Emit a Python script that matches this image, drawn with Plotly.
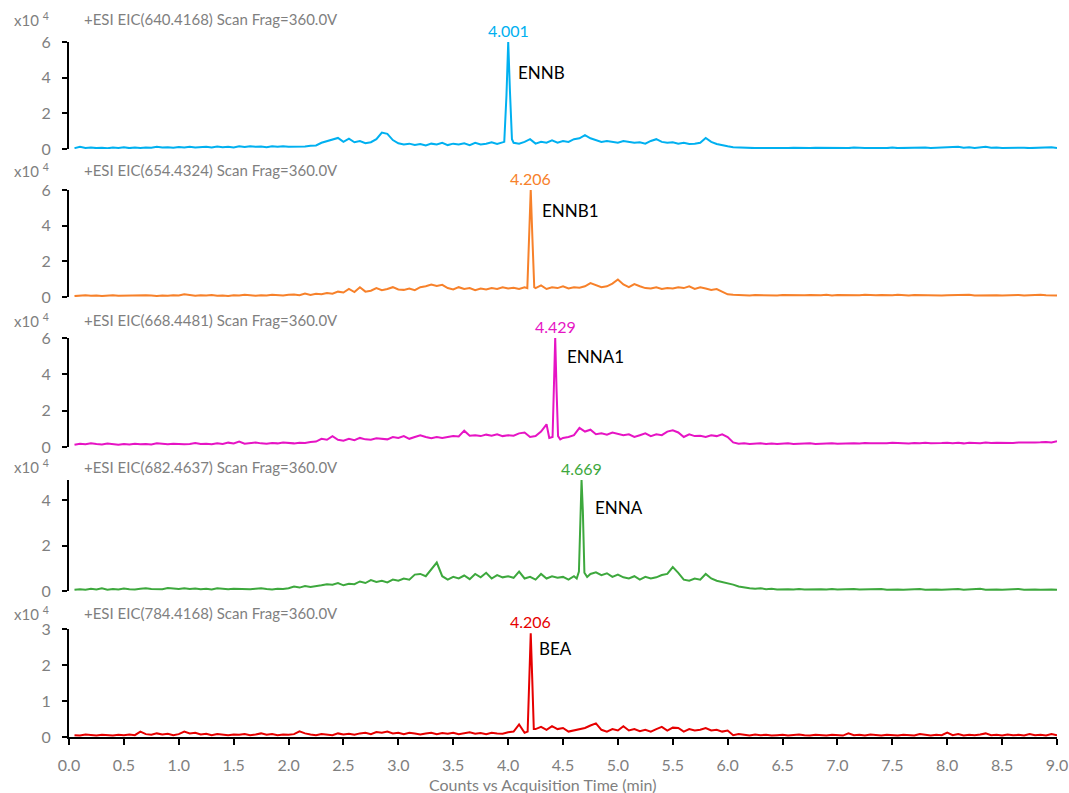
import numpy as np
import plotly.graph_objects as go

OFF = 0
W, H = 1069, 793

# ---- data (intensity in units of 10^4 counts) ----
# baseline sampling grid: 0.05 .. 9.00 min
time_grid = np.round(np.arange(1, 181) * 0.05, 2)

ennb_base = [
    0.05,0.12,0.06,0.08,0.05,0.07,0.04,0.08,0.06,0.10,0.05,0.08,0.06,0.09,0.07,0.12,0.08,0.10,0.07,0.11,
    0.08,0.13,0.09,0.10,0.12,0.08,0.14,0.10,0.12,0.09,0.15,0.11,0.16,0.12,0.14,0.10,0.15,0.12,0.16,0.13,
    0.13,0.16,0.14,0.18,0.20,0.35,0.45,0.55,0.62,0.40,0.58,0.38,0.45,0.32,0.38,0.55,0.92,0.85,0.50,0.32,
    0.25,0.30,0.22,0.28,0.20,0.30,0.25,0.35,0.22,0.30,0.25,0.32,0.22,0.35,0.25,0.30,0.38,0.28,0.35,0.40,
    0.35,0.30,0.40,0.55,0.30,0.40,0.35,0.48,0.35,0.45,0.40,0.55,0.60,0.78,0.60,0.50,0.40,0.45,0.38,0.35,
    0.45,0.40,0.35,0.38,0.30,0.45,0.55,0.40,0.35,0.38,0.30,0.35,0.28,0.30,0.35,0.62,0.40,0.28,0.20,0.15,
    0.10,0.08,0.06,0.07,0.05,0.06,0.05,0.07,0.05,0.06,0.05,0.07,0.05,0.06,0.05,0.07,0.06,0.05,0.07,0.05,
    0.06,0.05,0.08,0.05,0.06,0.05,0.07,0.06,0.05,0.08,0.05,0.06,0.07,0.05,0.06,0.08,0.06,0.07,0.09,0.06,
    0.08,0.12,0.07,0.10,0.06,0.08,0.12,0.07,0.09,0.06,0.07,0.08,0.06,0.07,0.05,0.06,0.08,0.05,0.10,0.06,
]
ennb_peak_t = [3.965, 3.985, 4.001, 4.017, 4.035]
ennb_peak_v = [0.40, 3.00, 6.00, 3.20, 0.55]

ennb1_base = [
    0.05,0.08,0.10,0.07,0.09,0.06,0.08,0.10,0.07,0.08,0.06,0.09,0.07,0.10,0.08,0.06,0.09,0.07,0.10,0.08,
    0.15,0.09,0.07,0.10,0.08,0.11,0.07,0.09,0.06,0.10,0.08,0.12,0.09,0.07,0.10,0.08,0.13,0.10,0.08,0.12,
    0.14,0.10,0.20,0.12,0.18,0.15,0.22,0.18,0.30,0.25,0.45,0.28,0.55,0.30,0.35,0.50,0.38,0.45,0.55,0.42,
    0.40,0.48,0.38,0.55,0.60,0.70,0.62,0.68,0.50,0.42,0.55,0.45,0.50,0.38,0.48,0.42,0.50,0.45,0.55,0.48,
    0.52,0.45,0.55,0.50,0.50,0.65,0.45,0.55,0.50,0.60,0.48,0.55,0.52,0.60,0.78,0.65,0.55,0.60,0.75,0.98,
    0.70,0.55,0.72,0.60,0.50,0.48,0.55,0.45,0.50,0.48,0.55,0.50,0.60,0.45,0.55,0.48,0.40,0.45,0.30,0.15,
    0.12,0.10,0.12,0.09,0.11,0.10,0.12,0.10,0.09,0.11,0.10,0.12,0.09,0.10,0.11,0.09,0.10,0.12,0.09,0.11,
    0.10,0.09,0.11,0.10,0.12,0.09,0.10,0.11,0.09,0.10,0.12,0.10,0.09,0.11,0.10,0.09,0.10,0.11,0.09,0.10,
    0.11,0.09,0.10,0.12,0.09,0.10,0.11,0.09,0.10,0.08,0.10,0.09,0.11,0.08,0.10,0.09,0.12,0.10,0.08,0.09,
]
ennb1_peak_t = [4.175, 4.190, 4.206, 4.222, 4.238]
ennb1_peak_v = [0.50, 3.00, 6.00, 3.20, 0.55]

enna1_base = [
    0.12,0.18,0.15,0.20,0.16,0.14,0.19,0.15,0.12,0.16,0.14,0.18,0.15,0.17,0.14,0.20,0.16,0.15,0.18,0.16,
    0.15,0.17,0.22,0.16,0.18,0.15,0.20,0.17,0.24,0.20,0.30,0.18,0.22,0.25,0.20,0.18,0.22,0.20,0.25,0.22,
    0.20,0.24,0.22,0.28,0.30,0.45,0.40,0.60,0.40,0.35,0.45,0.38,0.50,0.42,0.40,0.48,0.45,0.42,0.55,0.50,
    0.60,0.45,0.55,0.65,0.55,0.48,0.55,0.50,0.55,0.60,0.58,0.90,0.62,0.65,0.60,0.68,0.62,0.70,0.60,0.65,
    0.62,0.75,0.80,0.55,0.60,0.85,1.25,0.50,0.50,0.50,0.55,0.65,1.05,0.85,0.95,0.70,0.75,0.68,0.80,0.72,
    0.65,0.70,0.55,0.65,0.75,0.60,0.70,0.65,0.85,0.92,0.80,0.55,0.70,0.60,0.62,0.55,0.65,0.60,0.70,0.55,
    0.25,0.18,0.20,0.16,0.18,0.20,0.17,0.19,0.16,0.18,0.20,0.17,0.19,0.18,0.20,0.17,0.19,0.18,0.21,0.18,
    0.20,0.18,0.21,0.19,0.22,0.20,0.19,0.21,0.20,0.23,0.20,0.21,0.19,0.22,0.20,0.23,0.21,0.20,0.22,0.24,
    0.21,0.23,0.20,0.24,0.22,0.21,0.25,0.22,0.24,0.23,0.26,0.22,0.25,0.24,0.27,0.25,0.26,0.28,0.25,0.32,
]
enna1_peak_t = [4.375, 4.405, 4.417, 4.429, 4.441, 4.455, 4.475]
enna1_peak_v = [0.50, 0.55, 3.20, 6.00, 3.20, 0.60, 0.42]

enna_base = [
    0.05,0.08,0.06,0.10,0.07,0.12,0.06,0.09,0.07,0.11,0.08,0.07,0.10,0.12,0.09,0.10,0.08,0.13,0.10,0.09,
    0.12,0.09,0.11,0.08,0.10,0.07,0.12,0.09,0.08,0.10,0.09,0.11,0.08,0.10,0.12,0.09,0.07,0.10,0.09,0.12,
    0.20,0.15,0.22,0.18,0.20,0.25,0.30,0.28,0.35,0.25,0.32,0.30,0.42,0.35,0.48,0.40,0.45,0.38,0.50,0.45,
    0.55,0.50,0.72,0.75,0.65,0.95,1.25,0.65,0.50,0.62,0.55,0.68,0.52,0.75,0.60,0.80,0.55,0.70,0.60,0.65,
    0.58,0.85,0.55,0.62,0.50,0.75,0.55,0.65,0.58,0.62,0.50,0.65,0.70,0.70,0.75,0.82,0.70,0.78,0.62,0.72,
    0.60,0.55,0.65,0.50,0.62,0.55,0.60,0.70,0.75,1.05,0.80,0.50,0.45,0.55,0.50,0.75,0.55,0.45,0.40,0.35,
    0.28,0.20,0.15,0.12,0.10,0.12,0.08,0.10,0.07,0.09,0.08,0.07,0.09,0.07,0.08,0.06,0.08,0.07,0.09,0.07,
    0.08,0.06,0.09,0.07,0.08,0.06,0.07,0.09,0.06,0.08,0.07,0.06,0.08,0.07,0.09,0.06,0.08,0.07,0.06,0.08,
    0.07,0.09,0.06,0.08,0.07,0.10,0.06,0.08,0.07,0.06,0.08,0.07,0.09,0.06,0.08,0.07,0.06,0.08,0.07,0.06,
]
enna_peak_t = [4.625, 4.645, 4.657, 4.669, 4.681, 4.695, 4.720]
enna_peak_v = [0.55, 0.85, 3.50, 4.88, 3.50, 0.80, 0.62]

bea_base = [
    0.05,0.04,0.07,0.05,0.04,0.06,0.05,0.04,0.06,0.05,0.07,0.05,0.15,0.08,0.06,0.10,0.07,0.09,0.05,0.08,
    0.15,0.10,0.12,0.07,0.09,0.05,0.08,0.06,0.05,0.07,0.06,0.08,0.05,0.07,0.10,0.06,0.08,0.05,0.07,0.06,
    0.08,0.16,0.10,0.07,0.05,0.08,0.06,0.05,0.10,0.07,0.09,0.06,0.10,0.12,0.08,0.14,0.12,0.15,0.10,0.12,
    0.08,0.12,0.10,0.07,0.10,0.12,0.08,0.11,0.09,0.12,0.08,0.10,0.13,0.09,0.11,0.08,0.12,0.10,0.09,0.13,
    0.15,0.35,0.12,0.15,0.22,0.28,0.20,0.30,0.22,0.25,0.15,0.18,0.22,0.25,0.32,0.38,0.20,0.15,0.22,0.18,
    0.30,0.18,0.22,0.16,0.20,0.15,0.22,0.28,0.18,0.26,0.25,0.15,0.22,0.18,0.20,0.25,0.18,0.20,0.15,0.18,
    0.05,0.08,0.06,0.04,0.07,0.05,0.06,0.04,0.05,0.06,0.04,0.05,0.07,0.05,0.04,0.06,0.05,0.04,0.06,0.05,
    0.04,0.10,0.05,0.06,0.04,0.07,0.05,0.04,0.06,0.05,0.04,0.06,0.05,0.04,0.08,0.05,0.04,0.06,0.05,0.12,
    0.05,0.08,0.04,0.06,0.05,0.07,0.10,0.05,0.06,0.04,0.07,0.05,0.06,0.04,0.08,0.05,0.06,0.04,0.08,0.05,
]
bea_peak_t = [4.178, 4.192, 4.206, 4.220, 4.234]
bea_peak_v = [0.15, 1.60, 2.88, 1.60, 0.22]

headers = [
    "+ESI EIC(640.4168) Scan Frag=360.0V",
    "+ESI EIC(654.4324) Scan Frag=360.0V",
    "+ESI EIC(668.4481) Scan Frag=360.0V",
    "+ESI EIC(682.4637) Scan Frag=360.0V",
    "+ESI EIC(784.4168) Scan Frag=360.0V",
]
compounds = ["ENNB", "ENNB1", "ENNA1", "ENNA", "BEA"]
peak_rt_labels = ["4.001", "4.206", "4.429", "4.669", "4.206"]
colors = ["#00B0F0", "#F7812A", "#E614C4", "#3DA83D", "#E60000"]
y_max = [6, 6, 6, 4.88, 3]
y_ticks = [[0, 2, 4, 6], [0, 2, 4, 6], [0, 2, 4, 6], [0, 2, 4], [0, 1, 2, 3]]
x_ticks = [0.0, 0.5, 1.0, 1.5, 2.0, 2.5, 3.0, 3.5, 4.0, 4.5, 5.0, 5.5, 6.0, 6.5, 7.0, 7.5, 8.0, 8.5, 9.0]

# ---- layout helpers (screen-pixel geometry) ----
panel_px = [(42, 149), (190, 297), (338, 447), (480, 591), (629, 737)]
header_px = [19, 170, 320, 467, 613]
name_pos = [(4.07, 4.27), (4.29, 4.83), (4.52, 5.0), (4.77, 3.65), (4.26, 2.47)]


def pxx(p):
    return (p - OFF) / W


def py(p):
    return 1 - (p - OFF) / H


def merge(base, pk_t, pk_v):
    lo, hi = min(pk_t), max(pk_t)
    pts = [(t, v) for t, v in zip(time_grid, base) if not (lo <= t <= hi)]
    pts += list(zip(pk_t, pk_v))
    pts.sort()
    return [p[0] for p in pts], [p[1] for p in pts]


series = [
    merge(ennb_base, ennb_peak_t, ennb_peak_v),
    merge(ennb1_base, ennb1_peak_t, ennb1_peak_v),
    merge(enna1_base, enna1_peak_t, enna1_peak_v),
    merge(enna_base, enna_peak_t, enna_peak_v),
    merge(bea_base, bea_peak_t, bea_peak_v),
]
peaks = [
    (ennb_peak_t, ennb_peak_v), (ennb1_peak_t, ennb1_peak_v), (enna1_peak_t, enna1_peak_v),
    (enna_peak_t, enna_peak_v), (bea_peak_t, bea_peak_v),
]

FONT = "Lato, 'Open Sans', sans-serif"
GRAY = "#7F7F7F"

fig = go.Figure()
annotations = []
layout = dict(
    width=W, height=H,
    margin=dict(l=0, r=0, t=0, b=0, pad=0, autoexpand=False),
    paper_bgcolor="white", plot_bgcolor="white",
    showlegend=False,
    font=dict(family=FONT, color=GRAY),
    xaxis=dict(
        domain=[pxx(69), pxx(1057)], range=[0, 9], anchor="y5",
        tickvals=x_ticks, ticktext=[f"{v:.1f}" for v in x_ticks],
        showline=True, linecolor="black", linewidth=2,
        ticks="outside", ticklen=6, tickwidth=2, tickcolor="black",
        tickfont=dict(size=16, color=GRAY, family=FONT),
        ticklabelstandoff=7, automargin=False,
        showgrid=False, zeroline=False,
    ),
)

for i in range(5):
    yname = "y" if i == 0 else f"y{i+1}"
    lname = "yaxis" if i == 0 else f"yaxis{i+1}"
    t, v = series[i]
    fig.add_trace(go.Scatter(
        x=t, y=v, mode="lines", xaxis="x", yaxis=yname,
        line=dict(color=colors[i], width=2), hoverinfo="x+y",
    ))
    top, bot = panel_px[i]
    layout[lname] = dict(
        domain=[py(bot), py(top)], range=[0, y_max[i]], anchor="x",
        tickvals=y_ticks[i],
        showline=True, linecolor="black", linewidth=2,
        ticks="outside", ticklen=5, tickwidth=2, tickcolor="black",
        tickfont=dict(size=16, color=GRAY, family=FONT),
        ticklabelstandoff=8, automargin=False,
        showgrid=False, zeroline=False,
    )
    # header texts
    annotations.append(dict(
        xref="paper", yref="paper", x=pxx(82), y=py(header_px[i]),
        xanchor="left", yanchor="middle", showarrow=False,
        text=headers[i], font=dict(size=15, color=GRAY, family=FONT),
    ))
    annotations.append(dict(
        xref="paper", yref="paper", x=pxx(12), y=py(header_px[i]),
        xanchor="left", yanchor="middle", showarrow=False,
        text="x10 <sup>4</sup>", font=dict(size=15, color=GRAY, family=FONT),
    ))
    # peak retention time label
    pk_t, pk_v = peaks[i]
    k = int(np.argmax(pk_v))
    annotations.append(dict(
        xref="x", yref=yname, x=pk_t[k], y=pk_v[k],
        xanchor="center", yanchor="bottom", showarrow=False,
        text=peak_rt_labels[i], font=dict(size=16, color=colors[i], family=FONT),
    ))
    # compound name
    nx, ny = name_pos[i]
    annotations.append(dict(
        xref="x", yref=yname, x=nx, y=ny,
        xanchor="left", yanchor="middle", showarrow=False,
        text=compounds[i], font=dict(size=17, color="black", family=FONT),
    ))

annotations.append(dict(
    xref="paper", yref="paper", x=pxx(542), y=py(784),
    xanchor="center", yanchor="middle", showarrow=False,
    text="Counts vs Acquisition Time (min)", font=dict(size=16, color=GRAY, family=FONT),
))
layout["annotations"] = annotations
fig.update_layout(**layout)
fig.write_html(
    "out.html",
    config={"displayModeBar": False},
    post_script="document.body.style.margin='0';document.documentElement.style.overflow='hidden';",
)
